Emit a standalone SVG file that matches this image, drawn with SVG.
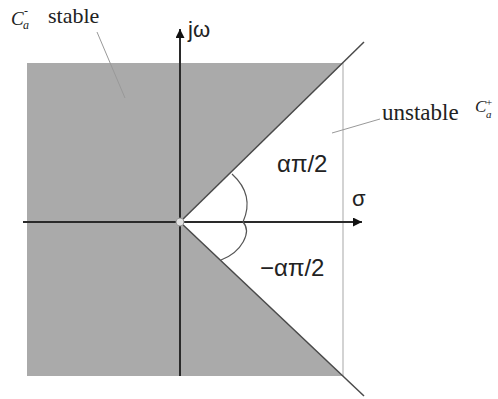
<svg xmlns="http://www.w3.org/2000/svg" width="498" height="399" viewBox="0 0 498 399">
<style>
.lbl{font-family:"Liberation Serif","Times New Roman",serif;fill:#222}
.sym{font-family:"Liberation Sans",Arial,sans-serif;fill:#222}
.it{font-family:"Liberation Serif","Times New Roman",serif;font-style:italic;fill:#222}
.axis{stroke:#2a2a2a;stroke-width:2;fill:none}
.diag{stroke:#4a4a4a;stroke-width:1.5;fill:none}
.lead{stroke:#999;stroke-width:1;fill:none}
.arc{stroke:#555;stroke-width:1.2;fill:none}
</style>
<defs>
<marker id="ah" viewBox="0 0 10 10" refX="10" refY="5" markerWidth="10" markerHeight="9" markerUnits="userSpaceOnUse" orient="auto">
<path d="M0,0 L10,5 L0,10 Z" fill="#111"/>
</marker>
</defs>
<rect width="498" height="399" fill="#fff"/>
<g id="stable-region">
<polygon points="27,63 343,63 180,222 343,376 27,376" fill="#aaaaaa"/>
</g>
<g id="boundary">
<line x1="343" y1="63" x2="343" y2="376" stroke="#c4c4c4" stroke-width="1.5"/>
</g>
<g id="connectors">
<line class="axis" x1="23" y1="222" x2="362" y2="222" marker-end="url(#ah)"/>
<line class="axis" x1="180" y1="376" x2="180" y2="29" marker-end="url(#ah)"/>
<line class="diag" x1="180" y1="222" x2="364" y2="42"/>
<line class="diag" x1="180" y1="222" x2="364" y2="396"/>
<path class="arc" d="M232,174 Q255,195 243,222"/>
<path class="arc" d="M243,222 C252,232 242,252 221,260"/>
<line class="lead" x1="97" y1="32" x2="125" y2="98"/>
<line class="lead" x1="380" y1="119" x2="332" y2="133"/>
</g>
<g id="origin">
<circle cx="180" cy="222" r="4" fill="#e2e2e2" stroke="#999" stroke-width="1"/>
</g>
<g id="label-stable">
<text class="it" x="11" y="25" font-size="19">C</text>
<text class="it" x="23" y="29" font-size="12">a</text>
<text class="lbl" x="24" y="15" font-size="12">-</text>
<text class="lbl" x="48" y="23" font-size="22">stable</text>
</g>
<g id="label-unstable">
<text class="lbl" x="382" y="120" font-size="23">unstable</text>
<text class="it" x="475" y="112" font-size="17">C</text>
<text class="it" x="486" y="118" font-size="11">a</text>
<text class="lbl" x="486" y="106" font-size="11">+</text>
</g>
<g id="label-axes">
<text class="sym" x="188" y="37" font-size="22">jω</text>
<text class="sym" x="352" y="206" font-size="22">σ</text>
</g>
<g id="label-angles">
<text class="sym" x="277" y="172" font-size="24">απ/2</text>
<text class="sym" x="260" y="276" font-size="24">−απ/2</text>
</g>
</svg>
